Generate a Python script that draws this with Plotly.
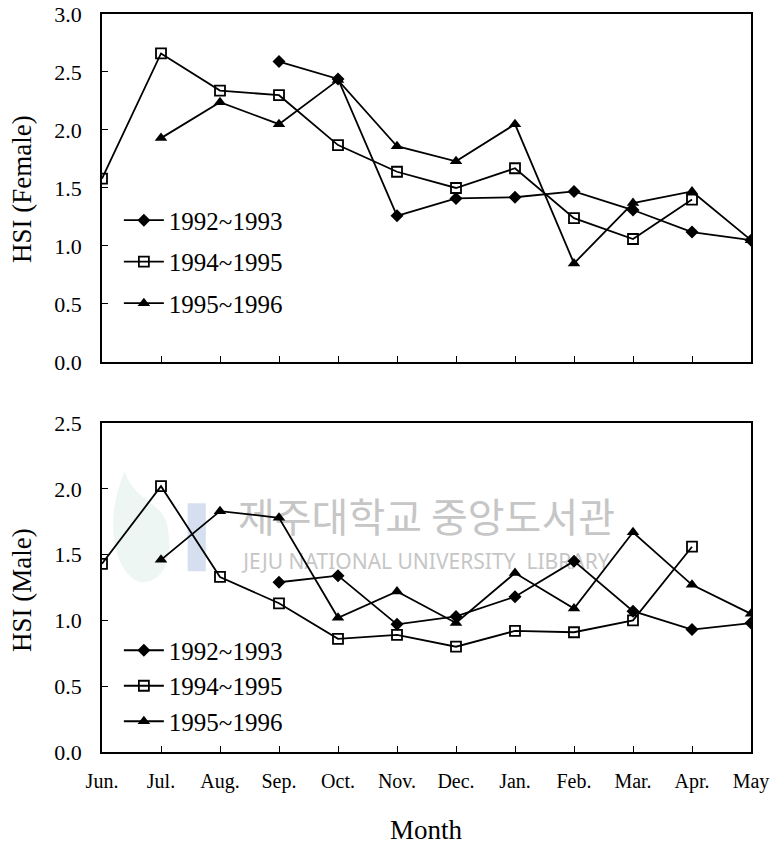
import plotly.graph_objects as go
from plotly.subplots import make_subplots

months = ["Jun.", "Jul.", "Aug.", "Sep.", "Oct.", "Nov.", "Dec.",
          "Jan.", "Feb.", "Mar.", "Apr.", "May"]
series_names = ["1992~1993", "1994~1995", "1995~1996"]

# HSI of females, one value per month (None = not sampled)
female_9293 = [None, None, None, 2.59, 2.44, 1.26, 1.41, 1.42, 1.47, 1.31, 1.12, 1.05]
female_9495 = [1.58, 2.66, 2.34, 2.30, 1.87, 1.64, 1.50, 1.67, 1.24, 1.06, 1.40, None]
female_9596 = [None, 1.93, 2.24, 2.05, 2.43, 1.86, 1.73, 2.05, 0.85, 1.37, 1.47, 1.05]

# HSI of males
male_9293 = [None, None, None, 1.29, 1.34, 0.97, 1.03, 1.18, 1.45, 1.07, 0.93, 0.98]
male_9495 = [1.43, 2.02, 1.33, 1.13, 0.86, 0.89, 0.80, 0.92, 0.91, 1.00, 1.56, None]
male_9596 = [None, 1.46, 1.83, 1.78, 1.02, 1.22, 0.98, 1.36, 1.09, 1.67, 1.27, 1.05]

female_ticks = [0.0, 0.5, 1.0, 1.5, 2.0, 2.5, 3.0]
male_ticks = [0.0, 0.5, 1.0, 1.5, 2.0, 2.5]

x_pos = list(range(len(months)))
SERIF = "Liberation Serif"

marker_styles = [
    dict(symbol="diamond", size=10, color="black"),
    dict(symbol="square-open", size=10, color="black", line=dict(width=1.8, color="black")),
    dict(symbol="triangle-up", size=11, color="black"),
]

fig = make_subplots(rows=2, cols=1, shared_xaxes=False)

# library watermark, drawn first so the data lines sit on top of it
fig.add_trace(go.Scatter(
    x=[5.5, 5.5], y=[1.75, 1.43], mode="text",
    text=["제주대학교 중앙도서관", "JEJU NATIONAL UNIVERSITY  LIBRARY"],
    textfont=dict(family=["Noto Sans CJK KR", "Noto Sans"], size=[40, 21],
                  color="#c6c6c6"),
    showlegend=False, hoverinfo="skip"), row=2, col=1)

for vals, name, mk in zip([female_9293, female_9495, female_9596], series_names, marker_styles):
    fig.add_trace(go.Scatter(
        x=x_pos, y=vals, name=name, mode="lines+markers",
        line=dict(color="black", width=1.8), marker=mk,
        legend="legend", legendgroup="f" + name), row=1, col=1)

for vals, name, mk in zip([male_9293, male_9495, male_9596], series_names, marker_styles):
    fig.add_trace(go.Scatter(
        x=x_pos, y=vals, name=name, mode="lines+markers",
        line=dict(color="black", width=1.8), marker=mk,
        legend="legend2", legendgroup="m" + name), row=2, col=1)

axis_common = dict(showline=True, linecolor="black", linewidth=1.6, mirror=True,
                   ticks="inside", ticklen=6, tickcolor="black", showgrid=False,
                   zeroline=False, automargin=False)

fig.update_xaxes(range=[0, 11], tickvals=x_pos, ticktext=months, **axis_common)
fig.update_xaxes(showticklabels=False, row=1, col=1)
fig.update_xaxes(tickfont=dict(family=SERIF, size=20, color="black"),
                 ticklabelstandoff=10, row=2, col=1)

ytick_font = dict(family=SERIF, size=22, color="black")

fig.update_yaxes(range=[0, 3.0], tickvals=female_ticks,
                 ticktext=[f"{v:.1f}" for v in female_ticks],
                 tickfont=ytick_font, ticklabelstandoff=14,
                 domain=[0.5285, 1.0], row=1, col=1, **axis_common)
fig.update_yaxes(range=[0, 2.5], tickvals=male_ticks,
                 ticktext=[f"{v:.1f}" for v in male_ticks],
                 tickfont=ytick_font, ticklabelstandoff=14,
                 domain=[0.0, 0.4458], row=2, col=1, **axis_common)

# axis titles
title_font = dict(family=SERIF, size=27, color="black")
fig.add_annotation(text="HSI (Female)", xref="paper", yref="paper",
                   x=0, y=0.763, xshift=-80, xanchor="center", yanchor="middle",
                   textangle=-90, showarrow=False, font=title_font)
fig.add_annotation(text="HSI (Male)", xref="paper", yref="paper",
                   x=0, y=0.2195, xshift=-80, xanchor="center", yanchor="middle",
                   textangle=-90, showarrow=False, font=title_font)
fig.add_annotation(text="Month", xref="paper", yref="paper",
                   x=0.5, y=0, yshift=-78, xanchor="center", yanchor="middle",
                   showarrow=False, font=title_font)

legend_font = dict(family=SERIF, size=25, color="black")
legend_common = dict(font=legend_font, bgcolor="rgba(0,0,0,0)",
                     xanchor="left", yanchor="top", itemclick=False, itemwidth=40)

# faint logo of the library watermark
fig.add_shape(type="path", xref="paper", yref="paper", layer="below",
              path="M 0.035 0.38 C 0.00 0.31, 0.02 0.24, 0.06 0.23 "
                   "C 0.10 0.23, 0.11 0.27, 0.10 0.31 C 0.09 0.34, 0.05 0.34, 0.035 0.38 Z",
              fillcolor="rgba(200,225,215,0.3)", line=dict(width=0))
fig.add_shape(type="rect", xref="paper", yref="paper", layer="below",
              x0=0.132, x1=0.16, y0=0.245, y1=0.337,
              fillcolor="rgba(150,175,215,0.4)", line=dict(width=0))

fig.update_layout(
    width=776, height=844,
    margin=dict(l=102, r=25, t=14, b=92, autoexpand=False),
    paper_bgcolor="white", plot_bgcolor="white",
    font=dict(family=SERIF, color="black"),
    legend=dict(x=0.026, y=0.7514, tracegroupgap=6, **legend_common),
    legend2=dict(x=0.026, y=0.1687, tracegroupgap=0, **legend_common),
)

fig.write_html("out.html")
